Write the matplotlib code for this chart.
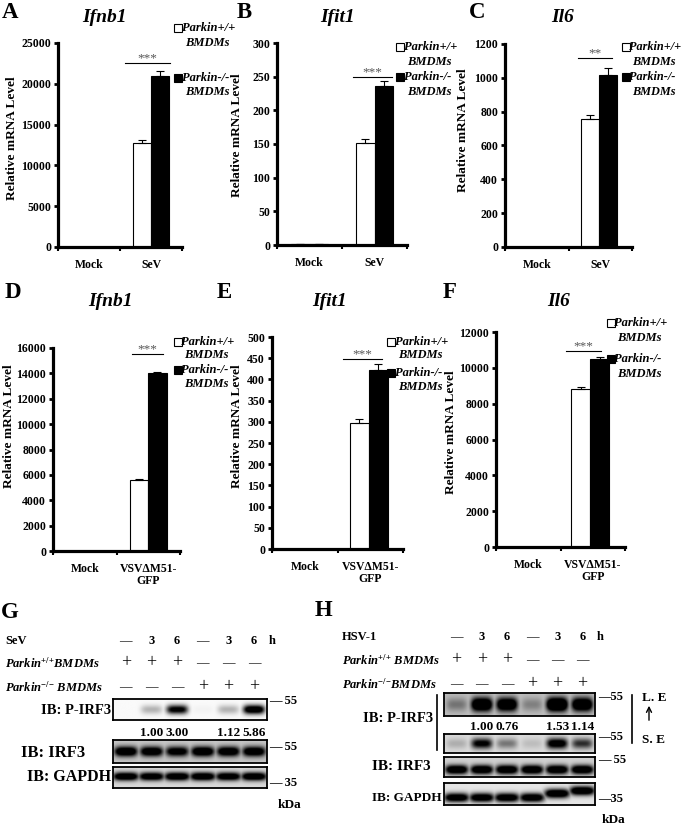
import numpy as np
import matplotlib
matplotlib.use('Agg')
import matplotlib.pyplot as plt
from matplotlib.patches import Rectangle, FancyArrowPatch
from matplotlib.lines import Line2D

plt.rcParams['font.family'] = ['Liberation Serif', 'DejaVu Serif']
plt.rcParams['font.weight'] = 'bold'
plt.rcParams['mathtext.fontset'] = 'custom'
plt.rcParams['mathtext.rm'] = 'Liberation Serif:bold'
plt.rcParams['mathtext.it'] = 'Liberation Serif:italic:bold'
plt.rcParams['mathtext.bf'] = 'Liberation Serif:bold'

W, H = 683, 825

# ---------------- data ----------------
cats_sev = ["Mock", "SeV"]
cats_vsv = ["Mock", "VSVΔM51-\nGFP"]
legend_wt = "Parkin+/+"
legend_ko = "Parkin-/-"
legend_cell = "BMDMs"
ylabel_text = "Relative mRNA Level"

ifnb1_sev_wt = [1, 12700]
ifnb1_sev_wt_err = [0, 450]
ifnb1_sev_ko = [1, 20900]
ifnb1_sev_ko_err = [0, 650]
ifit1_sev_wt = [1, 151]
ifit1_sev_wt_err = [0, 6]
ifit1_sev_ko = [1, 236]
ifit1_sev_ko_err = [0, 7]
il6_sev_wt = [1, 755]
il6_sev_wt_err = [0, 28]
il6_sev_ko = [1, 1015]
il6_sev_ko_err = [0, 45]

ifnb1_vsv_wt = [1, 5600]
ifnb1_vsv_wt_err = [0, 100]
ifnb1_vsv_ko = [1, 14050]
ifnb1_vsv_ko_err = [0, 80]
ifit1_vsv_wt = [1, 297]
ifit1_vsv_wt_err = [0, 10]
ifit1_vsv_ko = [1, 422]
ifit1_vsv_ko_err = [0, 14]
il6_vsv_wt = [1, 8800]
il6_vsv_wt_err = [0, 150]
il6_vsv_ko = [1, 10520]
il6_vsv_ko_err = [0, 80]

# western blots
g_time = ["—", "3", "6", "—", "3", "6"]
h_time = ["—", "3", "6", "—", "3", "6"]
wt_row = ["+", "+", "+", "—", "—", "—"]
ko_row = ["—", "—", "—", "+", "+", "+"]
g_quant = ["", "1.00", "3.00", "", "1.12", "5.86"]
h_quant = ["", "1.00", "0.76", "", "1.53", "1.14"]
g_pirf3_band = [0.0, 0.28, 1.1, 0.03, 0.28, 1.3]
g_irf3_band = [1.15, 1.1, 1.0, 1.15, 1.1, 1.1]
g_gapdh_band = [1.2, 1.15, 1.2, 1.2, 1.15, 1.2]
h_le_band = [0.3, 1.3, 1.2, 0.25, 1.45, 1.25]
h_se_band = [0.18, 0.95, 0.4, 0.12, 1.1, 0.7]
h_irf3_band = [1.2, 1.2, 1.2, 1.2, 1.2, 1.2]
h_gapdh_band = [1.2, 1.2, 1.2, 1.2, 1.3, 1.3]

# ---------------- helpers ----------------
fig = plt.figure(figsize=(W / 100, H / 100), dpi=100)


def add_ax(x0, y0, x1, y1):
    return fig.add_axes([x0 / W, 1 - y1 / H, (x1 - x0) / W, (y1 - y0) / H])


def txt(x, y, s, ha='center', va='center', **kw):
    return fig.text(x / W, 1 - y / H, s, ha=ha, va=va, **kw)


def fline(x0, y0, x1, y1, lw=1.0, color='black'):
    fig.add_artist(Line2D([x0 / W, x1 / W], [1 - y0 / H, 1 - y1 / H],
                          transform=fig.transFigure, lw=lw, color=color))


def legend(xsq, xt, ys, fs=9):
    s = 7.5
    fig.add_artist(Rectangle((xsq / W, 1 - (ys[0] + s / 2) / H), s / W, s / H,
                             transform=fig.transFigure, facecolor='white',
                             edgecolor='black', lw=0.8))
    fig.add_artist(Rectangle((xsq / W, 1 - (ys[2] + s / 2) / H), s / W, s / H,
                             transform=fig.transFigure, facecolor='black',
                             edgecolor='black', lw=0.8))
    kw = dict(ha='left', fontsize=fs, style='italic')
    txt(xt, ys[0], legend_wt, **kw)
    txt(xt + 3, ys[1], legend_cell, **kw)
    txt(xt, ys[2], legend_ko, **kw)
    txt(xt + 3, ys[3], legend_cell, **kw)


def bar_panel(px, cats, wt, wte, ko, koe, ymax, step, sig, sig_val, sig_x,
              bw=0.29, ctr=0.0):
    x0, ytop, x1, yzero = px
    ax = add_ax(x0, ytop, x1, yzero)
    xs = np.arange(len(cats)) + 0.5 + ctr
    ax.bar(xs - bw / 2, wt, bw, color='white', edgecolor='black', lw=0.8, zorder=2)
    ax.bar(xs + bw / 2, ko, bw, color='black', edgecolor='black', lw=0.8, zorder=2)
    ax.errorbar(xs - bw / 2, wt, yerr=[np.zeros(len(wt)), wte], fmt='none',
                ecolor='black', elinewidth=0.8, capsize=3, capthick=0.8, zorder=3)
    ax.errorbar(xs + bw / 2, ko, yerr=[np.zeros(len(ko)), koe], fmt='none',
                ecolor='black', elinewidth=0.8, capsize=3, capthick=0.8, zorder=3)
    ax.set_xlim(0, 2)
    ax.set_ylim(0, ymax)
    for s in ['top', 'right']:
        ax.spines[s].set_visible(False)
    for s in ['left', 'bottom']:
        ax.spines[s].set_linewidth(2.3)
    ax.set_yticks(np.arange(0, ymax + step / 2, step))
    ax.tick_params(axis='y', direction='out', length=3, width=2, labelsize=8.5, pad=2)
    ax.set_xticks([0, 1, 2])
    ax.set_xticklabels([])
    ax.set_xticks([0.5, 1.5], minor=True)
    ax.set_xticklabels(cats, minor=True, fontsize=8.5, linespacing=1.0)
    ax.tick_params(axis='x', which='major', direction='out', length=3, width=1.5)
    ax.tick_params(axis='x', which='minor', length=0, pad=9)
    ax.plot(sig_x, [sig_val, sig_val], color='black', lw=0.8, clip_on=False)
    ax.annotate(sig, xy=(np.mean(sig_x), sig_val), xytext=(0, -1),
                textcoords='offset points', ha='center', va='bottom',
                fontsize=9.5, color='#555555', fontweight='normal',
                annotation_clip=False)
    ax.patch.set_alpha(0)
    return ax


def panel_text(letter, lxy, title, txy, ylxy):
    txt(lxy[0], lxy[1], letter, fontsize=16.5)
    txt(txy[0], txy[1], title, fontsize=14, style='italic')
    txt(ylxy[0], ylxy[1], ylabel_text, rotation=90, fontsize=9.5)


# ---------------- row 1 ----------------
bar_panel((58, 43, 182, 247), cats_sev, ifnb1_sev_wt, ifnb1_sev_wt_err,
          ifnb1_sev_ko, ifnb1_sev_ko_err, 25000, 5000, "***", 22550, [1.08, 1.81])
panel_text("A", (10, 12), "Ifnb1", (104, 17), (12, 138))
legend(174, 182, [28, 43, 78, 92])

bar_panel((277, 43, 407, 245), cats_sev, ifit1_sev_wt, ifit1_sev_wt_err,
          ifit1_sev_ko, ifit1_sev_ko_err, 300, 50, "***", 249, [1.17, 1.77])
panel_text("B", (244, 12), "Ifit1", (338, 17), (237, 135))
legend(396, 404, [47, 62, 77, 92])

bar_panel((505, 44, 632, 247), cats_sev, il6_sev_wt, il6_sev_wt_err,
          il6_sev_ko, il6_sev_ko_err, 1200, 200, "**", 1115, [1.15, 1.69], ctr=-0.02)
panel_text("C", (477, 12), "Il6", (563, 17), (463, 130))
legend(622, 629, [47, 62, 77, 92], fs=8.8)

# ---------------- row 2 ----------------
bar_panel((53, 348, 180, 551), cats_vsv, ifnb1_vsv_wt, ifnb1_vsv_wt_err,
          ifnb1_vsv_ko, ifnb1_vsv_ko_err, 16000, 2000, "***", 15550, [1.24, 1.73])
panel_text("D", (13, 293), "Ifnb1", (110, 302), (9, 426))
legend(174, 181, [342, 355, 370, 384])

bar_panel((272, 337, 403, 549), cats_vsv, ifit1_vsv_wt, ifit1_vsv_wt_err,
          ifit1_vsv_ko, ifit1_vsv_ko_err, 500, 50, "***", 448, [1.08, 1.68], ctr=-0.02)
panel_text("E", (224, 293), "Ifit1", (330, 302), (237, 426))
legend(387, 395, [342, 355, 373, 387])

bar_panel((496, 332, 625, 547), cats_vsv, il6_vsv_wt, il6_vsv_wt_err,
          il6_vsv_ko, il6_vsv_ko_err, 12000, 2000, "***", 10950, [1.09, 1.63], ctr=-0.04)
panel_text("F", (450, 293), "Il6", (559, 302), (451, 432))
legend(607, 614, [323, 338, 359, 374])


# ---------------- blots ----------------
def blot(box, inten, centers, sigma, bg, halfwidth=0.42, lw=1.3):
    x0, y0, x1, y1 = box
    ax = add_ax(x0, y0, x1, y1)
    nx, ny = 360, 80
    X = np.linspace(0, 6, nx)
    Y = np.linspace(0, 1, ny)
    XX, YY = np.meshgrid(X, Y)
    dark = np.zeros_like(XX)
    for i, (a, c) in enumerate(zip(inten, centers)):
        prof = np.exp(-(np.abs(XX - (i + 0.5)) / halfwidth) ** 4) * \
            np.exp(-((YY - c) / sigma) ** 2)
        dark = np.maximum(dark, a * prof)
    img = np.clip(bg - dark, 0, 1)
    ax.imshow(img, cmap='gray', vmin=0, vmax=1, extent=[0, 6, 0, 1],
              origin='lower', aspect='auto', interpolation='bilinear')
    ax.set_xticks([])
    ax.set_yticks([])
    for s in ax.spines.values():
        s.set_linewidth(lw)
    return ax


def lane_row(xs, y, labels):
    for x, s in zip(xs, labels):
        if s == "+":
            txt(x, y, s, fontsize=13, fontweight='normal')
        elif s == "—":
            txt(x, y, s, fontsize=9, fontweight='normal')
        else:
            txt(x, y, s, fontsize=9)


# ---- G ----
gx0, gx1 = 113, 267
g_lanes = [gx0 + (i + 0.5) * (gx1 - gx0) / 6 for i in range(6)]
txt(10, 613, "G", fontsize=16.5)
txt(5, 641, "SeV", ha='left', fontsize=9)
lane_row(g_lanes, 641, g_time)
txt(272, 641, "h", fontsize=9)
txt(5, 663, r"$Parkin^{{+}/{+}}BMDMs$", ha='left', fontsize=9)
lane_row(g_lanes, 663, wt_row)
txt(5, 687, r"$Parkin^{{-}/{-}}\ BMDMs$", ha='left', fontsize=9)
lane_row(g_lanes, 687, ko_row)

blot((gx0, 699, gx1, 720), g_pirf3_band, [0.5] * 6, 0.22, 0.98)
txt(111, 710, "IB: P-IRF3", ha='right', fontsize=10.5)
txt(269, 701, "— 55", ha='left', fontsize=9)
for x, s in zip(g_lanes, g_quant):
    txt(x, 733, s, fontsize=9.5)
blot((gx0, 740, gx1, 763), g_irf3_band, [0.5] * 6, 0.22, 0.78, halfwidth=0.45)
txt(21, 753, "IB: IRF3", ha='left', fontsize=12)
txt(269, 747, "— 55", ha='left', fontsize=9)
blot((gx0, 767, gx1, 788), g_gapdh_band, [0.55] * 6, 0.2, 0.85, halfwidth=0.5)
txt(111, 777, "IB: GAPDH", ha='right', fontsize=11.5)
txt(269, 783, "— 35", ha='left', fontsize=9)
txt(289, 805, "kDa", fontsize=9.5)

# ---- H ----
hx0, hx1 = 444, 595
h_lanes = [hx0 + (i + 0.5) * (hx1 - hx0) / 6 for i in range(6)]
txt(324, 610, "H", fontsize=16.5)
txt(342, 637, "HSV-1", ha='left', fontsize=9)
lane_row(h_lanes, 637, h_time)
txt(600, 637, "h", fontsize=9)
txt(342, 660, r"$Parkin^{{+}/{+}}\ BMDMs$", ha='left', fontsize=9)
lane_row(h_lanes, 660, wt_row)
txt(342, 684, r"$Parkin^{{-}/{-}}BMDMs$", ha='left', fontsize=9)
lane_row(h_lanes, 684, ko_row)

blot((hx0, 693, hx1, 716), h_le_band, [0.5] * 6, 0.3, 0.75)
blot((hx0, 734, hx1, 753), h_se_band, [0.5] * 6, 0.28, 0.86)
for x, s in zip(h_lanes, h_quant):
    txt(x, 727, s, fontsize=9.5)
txt(433, 718, "IB: P-IRF3", ha='right', fontsize=10.5)
fline(437, 695, 437, 750, lw=1.2)
txt(598, 697, "—55", ha='left', fontsize=9)
txt(598, 737, "—55", ha='left', fontsize=9)
fline(632, 695, 632, 743, lw=1.2)
txt(642, 698, "L. E", ha='left', fontsize=9.5)
txt(642, 740, "S. E", ha='left', fontsize=9.5)
fig.add_artist(FancyArrowPatch((649 / W, 1 - 723 / H), (649 / W, 1 - 703 / H),
                               transform=fig.transFigure, arrowstyle='->',
                               mutation_scale=9, lw=1.0, color='black'))
blot((hx0, 757, hx1, 777), h_irf3_band, [0.35] * 6, 0.22, 0.82, halfwidth=0.45)
txt(372, 767, "IB: IRF3", ha='left', fontsize=11)
txt(598, 760, "— 55", ha='left', fontsize=9)
blot((hx0, 783, hx1, 805), h_gapdh_band, [0.32, 0.32, 0.32, 0.32, 0.5, 0.62],
     0.2, 0.9, halfwidth=0.5)
txt(372, 798, "IB: GAPDH", ha='left', fontsize=9.5)
txt(598, 799, "—35", ha='left', fontsize=9)
txt(613, 820, "kDa", fontsize=9.5)

fig.savefig("out.png", dpi=100)
